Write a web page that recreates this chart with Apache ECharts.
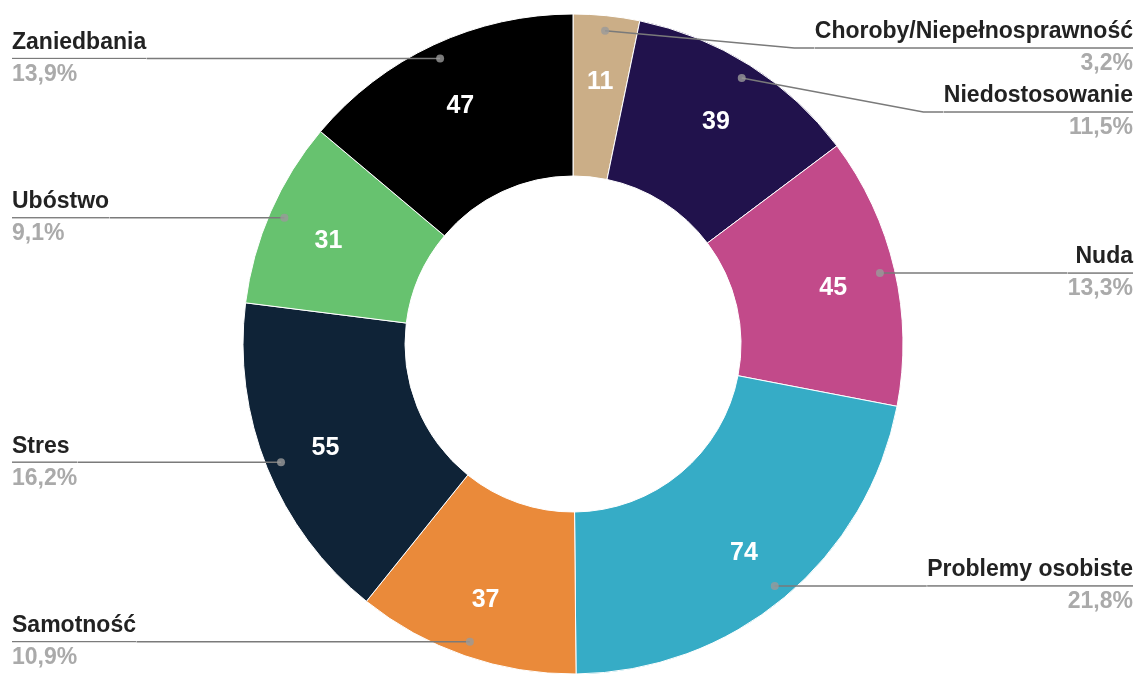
<!DOCTYPE html>
<html>
<head>
<meta charset="utf-8">
<title>Przyczyny</title>
<script src="https://cdn.jsdelivr.net/npm/echarts@6/dist/echarts.min.js"></script>
<style>
  html, body { margin: 0; padding: 0; background: #fff; }
  #chart { width: 1137px; height: 675px; }
</style>
</head>
<body>
<div id="chart"></div>
<script>
const categories = ['Choroby/Niepełnosprawność', 'Niedostosowanie', 'Nuda', 'Problemy osobiste', 'Samotność', 'Stres', 'Ubóstwo', 'Zaniedbania']
const counts = [11, 39, 45, 74, 37, 55, 31, 47]
const sliceColors = ['#cbae87', '#21124c', '#c24a8a', '#36acc6', '#ea8a3a', '#0f2337', '#67c26f', '#000000']

const total = counts.reduce((a, b) => a + b, 0)
const pieData = categories.map((name, i) => ({ name: name, value: counts[i], itemStyle: { color: sliceColors[i] } }))
const ghostData = categories.map((name, i) => ({ name: name, value: counts[i] }))
// middle of each slice, in the same units as the values, for the small dots
let acc = 0
const mids = counts.map(v => { const m = acc + v / 2; acc += v; return [1, m] })

function pct(v) {
  return (v / total * 100).toFixed(1).replace('.', ',') + '%'
}

const center = [573, 344]
const dotRadius = 315
const font = '"Liberation Sans", Arial, sans-serif'
const clear = { color: 'rgba(0,0,0,0)', borderWidth: 0 }
const labelHalf = 32   // half height of a name + percent label
const labelTop = 16    // labels never go above this

// label box for the side labels (center is relative to it)
const labelBox = { left: 8, right: 0, top: 14, bottom: 0 }

// stack the side labels: each stays level with its dot unless it would overlap the one above
const labelYs = []
;[true, false].forEach(rightSide => {
  let last = labelTop + labelHalf - 2 * labelHalf
  mids.map((m, i) => {
    const a = m[1] / total * Math.PI * 2
    return { i: i, right: Math.sin(a) >= 0, y: center[1] - dotRadius * Math.cos(a) }
  })
    .filter(d => d.right === rightSide)
    .sort((a, b) => a.y - b.y)
    .forEach(d => {
      const y = Math.max(d.y, last + 2 * labelHalf)
      labelYs[d.i] = y
      last = y
    })
})

const chart = echarts.init(document.getElementById('chart'))
chart.setOption({
  animation: false,
  textStyle: { fontFamily: font },
  polar: { center: center, radius: dotRadius },
  angleAxis: { type: 'value', min: 0, max: total, startAngle: 90, clockwise: true, show: false },
  radiusAxis: { type: 'value', min: 0, max: 1, show: false },
  series: [
    {
      // the visible ring
      type: 'pie',
      z: 1,
      center: center,
      radius: [168, 330],
      startAngle: 90,
      clockwise: true,
      silent: true,
      itemStyle: { borderColor: '#fff', borderWidth: 1 },
      label: { show: false },
      labelLine: { show: false },
      data: pieData
    },
    {
      // values written inside the slices
      type: 'pie',
      z: 3,
      center: center,
      radius: [198, 330],
      startAngle: 90,
      clockwise: true,
      silent: true,
      itemStyle: clear,
      label: {
        show: true,
        position: 'inside',
        formatter: '{c}',
        color: '#fff',
        fontSize: 25,
        fontWeight: 'bold',
        fontFamily: font,
        offset: [0, 4]
      },
      labelLine: { show: false },
      data: ghostData
    },
    {
      // names and percentages on the sides
      type: 'pie',
      z: 3,
      left: labelBox.left,
      right: labelBox.right,
      top: labelBox.top,
      bottom: labelBox.bottom,
      center: [center[0] - labelBox.left, center[1] - labelBox.top],
      radius: [0, dotRadius],
      startAngle: 90,
      clockwise: true,
      silent: true,
      itemStyle: clear,
      avoidLabelOverlap: true,
      label: {
        show: true,
        position: 'outside',
        alignTo: 'edge',
        edgeDistance: 4,
        distanceToLabelLine: 0,
        formatter: p => '{name|' + p.name + '}\n{hr|}\n{pct|' + pct(p.value) + '}',
        rich: {
          name: { fontSize: 23, fontWeight: 'bold', color: '#222', lineHeight: 32, fontFamily: font },
          hr: { width: '100%', height: 0, borderColor: '#7a7a7a', borderWidth: 1 },
          pct: { fontSize: 23, fontWeight: 'bold', color: '#aaaaaa', lineHeight: 32, fontFamily: font }
        }
      },
      labelLine: {
        show: true,
        length: 2,
        length2: 10,
        lineStyle: { color: '#7a7a7a', width: 1.5 }
      },
      labelLayout: function (params) {
        const pts = params.labelLinePoints
        const y = labelYs[params.dataIndex]
        if (!pts) return { y: y }
        const start = pts[0]
        const rect = params.labelRect
        const right = start[0] > center[0]
        const endX = right ? rect.x : rect.x + rect.width
        let bendX = endX + (right ? -20 : 20)
        if (Math.abs(y - start[1]) < 1) bendX = start[0]
        return {
          y: y,
          labelLinePoints: [[start[0], start[1]], [bendX, y], [endX, y]]
        }
      },
      data: ghostData
    },
    {
      type: 'scatter',
      coordinateSystem: 'polar',
      silent: true,
      symbol: 'circle',
      symbolSize: 8,
      itemStyle: { color: '#9a9a9a' },
      z: 10,
      data: mids
    }
  ]
})
window.addEventListener('resize', () => { chart.resize() })
</script>
</body>
</html>
